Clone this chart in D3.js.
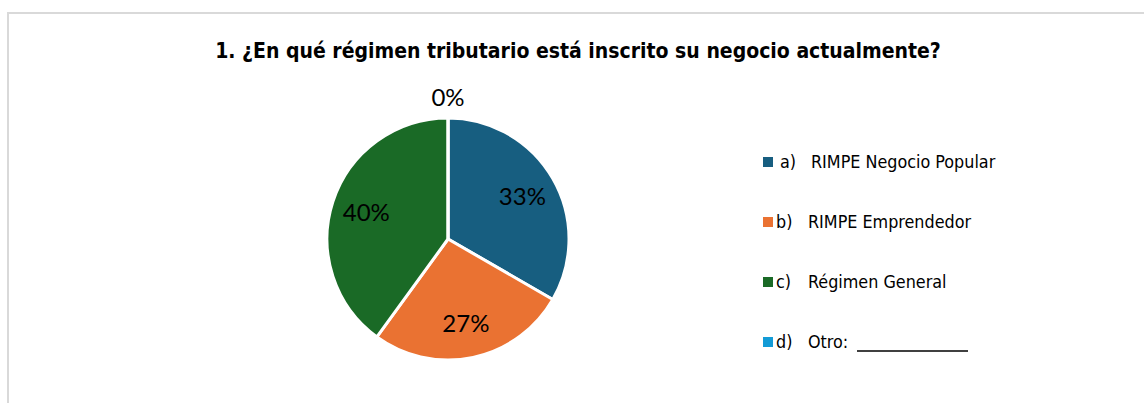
<!DOCTYPE html>
<html><head><meta charset="utf-8">
<script src="https://cdn.jsdelivr.net/npm/d3@7"></script>
<style>html,body{margin:0;padding:0;background:#fff;}svg{display:block;}</style>
</head><body>
<svg id="c" width="1144" height="403"></svg>
<script>
const title = "1. ¿En qué régimen tributario está inscrito su negocio actualmente?";
const letters = ["a)", "b)", "c)", "d)"];
const categories = ["RIMPE Negocio Popular", "RIMPE Emprendedor", "Régimen General", "Otro:"];
const values = [10, 8, 12, 0];
const colors = ["#175e80", "#ea7232", "#1a6a26", "#139bd6"];

const svg = d3.select("#c");
svg.append("path").attr("d", "M8,404 V13 H1146").attr("fill", "none").attr("stroke", "#d9d9d9").attr("stroke-width", 2);

svg.append("text").attr("x", 578).attr("y", 58).attr("text-anchor", "middle")
  .attr("font-family", "'DejaVu Sans Condensed', 'DejaVu Sans', sans-serif").attr("font-weight", "bold")
  .attr("font-size", 21).attr("fill", "#000").text(title);

const cx = 448, cy = 239, r = 121;
const total = d3.sum(values);
const pie = d3.pie().sort(null).value(d => d)(values);
const arc = d3.arc().innerRadius(0).outerRadius(r);
const g = svg.append("g").attr("transform", `translate(${cx},${cy})`);
g.selectAll("path").data(pie).join("path")
  .attr("d", arc).attr("fill", (d, i) => colors[i])
  .attr("stroke", "#fff").attr("stroke-width", 3).attr("stroke-linejoin", "round");

const labelArc = d3.arc().innerRadius(r * 0.71).outerRadius(r * 0.71);
g.selectAll("text.lbl").data(pie).join("text").attr("class", "lbl")
  .attr("transform", d => {
    if (d.data === 0) return `translate(0,${-r - 21})`;
    const [x, y] = labelArc.centroid(d); return `translate(${x},${y})`;
  })
  .attr("text-anchor", "middle").attr("dy", "0.36em")
  .attr("font-family", "Lato").attr("font-size", 24).attr("fill", "#000")
  .text(d => Math.round(d.data / total * 100) + "%");

const leg = svg.append("g").attr("font-family", "'DejaVu Sans Condensed', 'DejaVu Sans', sans-serif").attr("font-size", 17.8).attr("fill", "#000");
categories.forEach((c, i) => {
  const y = 162 + i * 60;
  leg.append("rect").attr("x", 763).attr("y", y - 5).attr("width", 10).attr("height", 10).attr("fill", colors[i]);
  leg.append("text").attr("x", i === 0 ? 780 : 776).attr("y", y).attr("dy", "0.36em").text(letters[i]);
  leg.append("text").attr("x", i === 0 ? 811 : 808).attr("y", y).attr("dy", "0.36em").text(c);
});
leg.append("line").attr("x1", 857).attr("x2", 968).attr("y1", 351).attr("y2", 351).attr("stroke", "#000").attr("stroke-width", 1.5);
</script>
</body></html>
